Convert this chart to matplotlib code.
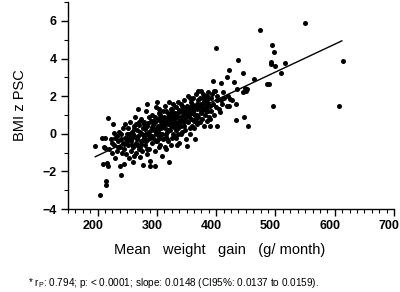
import matplotlib
matplotlib.use("Agg")
import matplotlib.pyplot as plt
import matplotlib.transforms as mtransforms
import numpy as np
from matplotlib.ticker import MultipleLocator

plt.rcParams['font.family'] = ['Liberation Sans', 'DejaVu Sans']
plt.rcParams['mathtext.fontset'] = 'custom'
plt.rcParams['mathtext.rm'] = 'Liberation Sans'
plt.rcParams['mathtext.it'] = 'Liberation Sans:italic'

# Mean weight gain (g/month), BMI z-score pairs
points = [
    (195, -0.66), (204, -3.25), (207, -0.23), (209.6, -1.6), (211, -0.71), (212, -0.75),
    (213, -0.25), (215, -1.55), (217, -1.69), (214, -2.5), (214, -2.7), (218, 0.85),
    (220, -0.8), (222, -0.3), (224, -1.0), (225, -0.5), (226, 0.53), (228, 0.05),
    (228, -0.6), (230, -1.3), (229, -0.2),
    (232, -0.1), (233, -0.9), (235, -0.4), (236, 0.1), (237.7, -1.69), (238, -0.7),
    (239.4, -2.17), (240, -0.3), (241, -1.0), (242, 0.3), (243, -0.5), (244.4, -1.6),
    (245, -0.8), (246, -0.2), (247, 0.5), (248, -1.1), (249, -0.4), (250, 0.0),
    (240, 0.0), (245, -0.55),
    (251, -0.6), (252, 0.3), (253, -1.3), (254, -0.2), (255, 0.6), (256, -0.9),
    (257, -0.4), (258, 0.1), (259, -1.5), (260, -0.7), (261, 0.4), (262, -0.1),
    (263, 0.9), (264, -0.5), (265, -1.0), (266, 0.2), (267, -0.3), (268, 1.3),
    (269, 0.6), (270, -0.8), (255, -0.3), (258, -0.6), (262, -1.2), (266, -0.6),
    (268, -0.1), (253, 0.0), (260, 0.0), (264, 0.5),
    (271.4, -1.25), (272, 0.1), (273, -0.4), (274, 0.8), (275, -0.9), (276, 0.3),
    (277, -1.64), (278, -0.2), (279, 0.5), (280, -0.6), (281, 1.2), (282, 0.0),
    (283, -1.1), (284, 0.4), (285, -0.3), (286, 0.9), (287, -0.8), (288, -1.42),
    (289, -1.73), (290, 0.2), (272, -0.7), (275, 0.0), (278, 0.6), (281, -0.4),
    (284, -0.8), (287, 0.1), (290, 0.7), (283, 1.6), (286, -0.05), (279, -0.1),
    (291, -0.5), (292, 1.0), (293, 0.3), (294, -0.2), (295, 0.6), (296, -0.9),
    (297, -1.7), (298, 0.1), (299, 1.4), (300, -0.4), (301, 0.8), (302, 0.2),
    (303, -0.7), (304, 1.1), (305, 0.4), (306, -0.2), (307, 0.9), (308, -1.2),
    (309, 0.0), (310, 0.5), (292, -0.1), (295, 0.2), (298, -0.4), (301, 0.4),
    (304, -0.1), (307, 0.3), (310, 1.2), (293, 0.7), (296, 0.9), (299, 0.0),
    (302, -0.3), (305, 0.7), (308, 0.6), (300, 1.7), (303, 1.3), (306, -0.6),
    (311, -0.3), (312, 0.9), (313, 0.3), (314, 1.5), (315, -0.8), (316, 0.6),
    (317, 0.1), (318, 1.1), (319, -0.4), (320, 0.7), (321, -1.51), (322, 0.2),
    (323, 1.3), (324, -0.6), (325, 0.9), (326, 0.4), (327, 1.6), (328, -0.1),
    (329, 0.8), (330, 0.3), (312, 0.4), (315, 0.0), (318, 0.5), (321, 1.0),
    (324, 0.6), (327, 0.0), (330, 1.1), (313, -0.7), (316, 1.2), (319, 0.2),
    (322, 0.8), (325, -0.2), (328, 0.5), (320, 1.7), (326, 1.3), (311, 0.7),
    (317, -0.3),
    (331, 0.6), (332, 1.4), (333, -0.2), (334, 0.9), (335, 0.3), (336, 1.7),
    (337, 0.7), (338, -0.5), (339, 1.2), (340, 0.4), (341, 0.9), (342, 1.5),
    (343, 0.1), (344, 1.0), (345, 0.6), (346, 1.8), (347, 0.2), (348, 1.2),
    (349, -0.3), (350, -0.63), (332, 0.2), (335, 1.1), (338, 0.6), (341, 0.0),
    (344, 1.4), (347, 0.8), (350, 1.0), (334, -0.6), (340, 1.6), (346, 0.4),
    (336, 0.0), (343, 0.7),
    (351, 1.4), (352, 0.6), (353, 2.0), (354, 0.9), (355, 1.3), (356, 0.3),
    (357, 1.7), (358, 0.8), (359, 1.1), (360, 0.4), (361, 1.9), (362, 0.7),
    (363, 1.4), (364, -0.3), (365, 1.0), (366, 2.1), (367, 0.5), (368, 1.3),
    (369, 1.8), (370, 0.9), (352, 1.1), (355, 0.0), (358, 1.5), (361, 1.2),
    (364, 0.8), (367, 1.6), (370, 2.3), (356, 1.9), (362, 0.3), (368, 0.6),
    (371, 1.4), (372, 0.6), (373, 1.9), (374, 1.1), (375, 1.6), (376, 0.8),
    (377, 2.1), (378, 1.3), (379, 0.4), (380, 1.7), (381, 1.0), (382, 2.0),
    (383, 1.4), (384, 0.7), (385, 1.8), (386, 1.2), (387, 2.2), (388, 0.9),
    (389.5, 0.39), (390, 1.5), (374, 2.3), (378, 1.9), (382, 1.2), (386, 1.6),
    (390, 0.8), (376, 1.4), (384, 2.0),
    (391, 1.9), (392, 1.2), (393, 2.1), (395, 2.8), (395, 1.6), (396, 1.0),
    (397, 2.3), (398, 2.3), (399, 1.4), (400.8, 0.39), (400, 4.58), (401, 1.8),
    (402, 2.0), (404, 1.3), (406, 1.15), (408, 2.7), (408, 1.77), (410, 1.6),
    (412, 2.2), (414, 1.9), (417.7, 1.5), (419, 3.0), (420, 2.0),
    (421.6, 3.37), (422, 1.5), (423, 1.86), (427, 1.77), (430, 2.75), (433, 1.56),
    (433, 0.74), (434.5, 2.4), (436, 3.9), (445, 3.25), (445.8, 2.22), (447, 0.88),
    (448.6, 2.45), (450, 2.3), (452.5, 2.4), (453, 0.39), (464, 2.9), (474, 5.54),
    (485, 2.66), (489.7, 2.66), (492, 3.8), (493, 3.7), (495, 4.74), (496, 1.47),
    (497.5, 4.35), (500, 3.58), (510, 3.23), (516, 3.76), (550, 5.86), (607, 1.5),
    (614.5, 3.87),
    # additional points in the dense core
    (262, 0.25), (270, 0.45), (276, -0.35), (280, 0.25), (285, 0.55), (288, -0.25),
    (294, 0.45), (297, 0.65), (300, 0.25), (303, 0.05), (306, 1.0), (309, 0.35),
    (313, 0.75), (316, -0.15), (319, 0.9), (322, 0.45), (325, 1.15), (328, 0.9),
    (331, 1.0), (334, 0.5), (337, 1.25), (340, 0.75), (343, 1.2), (347, 1.05),
    (350, 1.45), (353, 1.2), (356, 1.05), (359, 1.6), (362, 1.05), (365, 1.45),
    (368, 1.0), (372, 1.55), (375, 1.2), (379, 1.7), (383, 1.8), (387, 1.45),
    (258, -0.25), (266, -0.15), (274, -0.55), (291, 0.35), (235, -0.7), (250, -0.3),
]
weight_gain = [p[0] for p in points]
bmi_z = [p[1] for p in points]

slope = 0.0148
intercept = -4.12
line_x = [196, 612]

fig = plt.figure(figsize=(4.0, 2.92), dpi=100)
ax = fig.add_axes([0.17, 0.284, 0.815, 0.709])

ax.scatter(weight_gain, bmi_z, s=13, c='black', marker='o', linewidths=0, zorder=3)
lx = np.array(line_x, dtype=float)
ax.plot(lx, intercept + slope * lx, color='black', lw=1.0, zorder=4)

ax.set_xlim(150, 700)
ax.set_ylim(-4, 7)
ax.set_xticks([200, 300, 400, 500, 600, 700])
ax.xaxis.set_minor_locator(MultipleLocator(12.5))
ax.set_yticks([-4, -2, 0, 2, 4, 6])
ax.yaxis.set_minor_locator(MultipleLocator(1))

for s in ['top', 'right']:
    ax.spines[s].set_visible(False)
for s in ['left', 'bottom']:
    ax.spines[s].set_linewidth(1.0)
ax.tick_params(which='major', direction='out', length=5, width=1.0, labelsize=9, pad=3)
ax.tick_params(which='minor', direction='out', length=3, width=0.8)
for lab in ax.get_xticklabels() + ax.get_yticklabels():
    lab.set_fontweight('bold')
offset = mtransforms.ScaledTranslation(-5 / 100, 0, fig.dpi_scale_trans)
for lab in ax.get_xticklabels():
    lab.set_transform(lab.get_transform() + offset)

ax.set_xlabel('Mean   weight   gain   (g/ month)', fontsize=10.5)
ax.xaxis.set_label_coords(0.466, -0.165)
ax.set_ylabel('BMI z PSC', fontsize=10.5, labelpad=11)

fig.text(0.07, 0.03, r'* r$_\mathrm{P}$: 0.794; p: < 0.0001; slope: 0.0148 (CI95%: 0.0137 to 0.0159).',
         fontsize=7.2, ha='left', va='center')

fig.savefig('out.png', dpi=100)
